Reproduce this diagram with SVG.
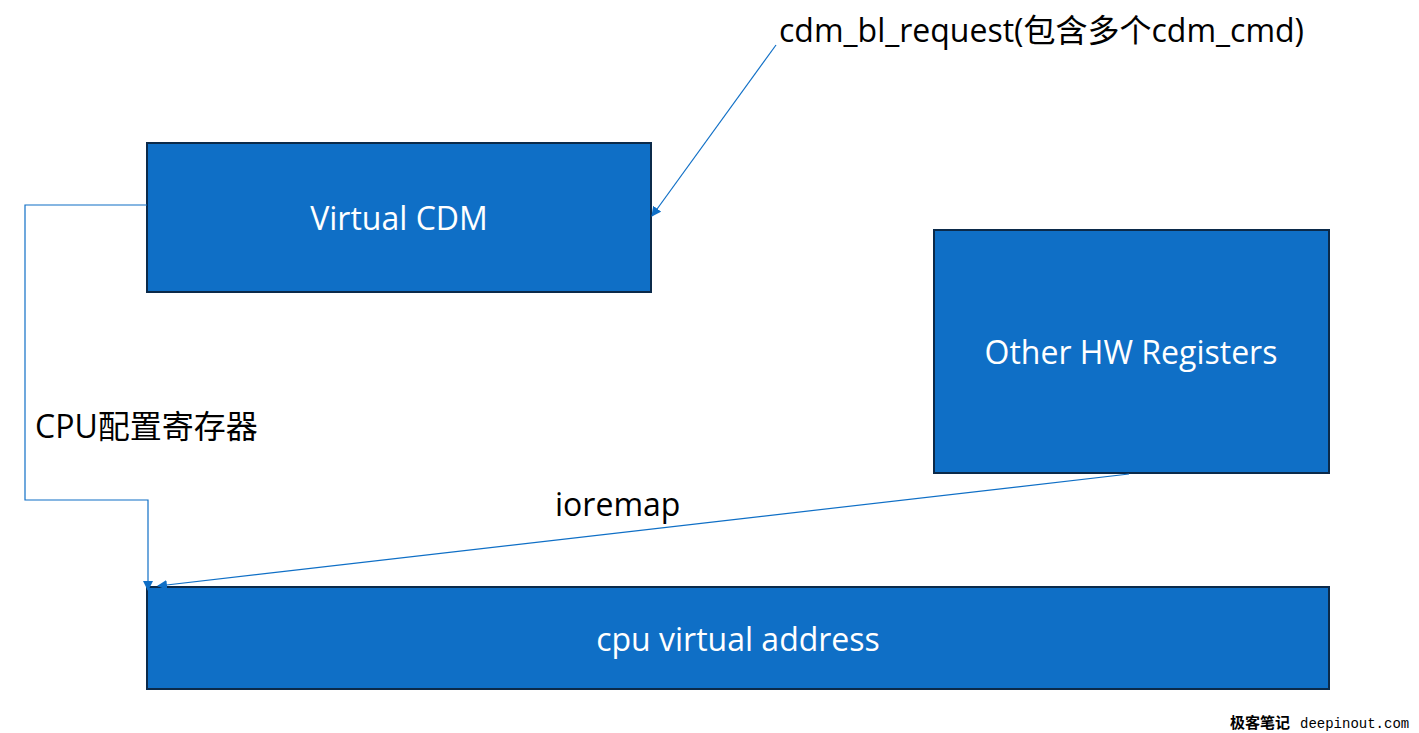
<svg xmlns="http://www.w3.org/2000/svg" width="1419" height="733" viewBox="0 0 1419 733">
<style>
.box{fill:#0f6fc6;stroke:#0b2a4a;stroke-width:2}
.bt{fill:#fff;font-family:"Open Sans","Noto Sans",sans-serif;font-size:32px;text-anchor:middle}
.lt{fill:#000;font-family:"Open Sans","Noto Sans","Noto Sans CJK SC",sans-serif;font-size:32px}
.c{fill:none;stroke:#0f6fc6;stroke-width:1.2}
</style>
<defs><marker id="a" viewBox="0 0 10 10" refX="9" refY="5" markerWidth="10" markerHeight="10" markerUnits="userSpaceOnUse" orient="auto"><path d="M0,0L10,5L0,10z" fill="#0f6fc6"/></marker></defs>
<rect width="1419" height="733" fill="#fff"/>
<g id="virtual-cdm"><rect class="box" x="147" y="143" width="504" height="149"/><text class="bt" x="399" y="230">Virtual CDM</text></g>
<g id="other-hw"><rect class="box" x="934" y="230" width="395" height="243"/><text class="bt" x="1131" y="364">Other HW Registers</text></g>
<g id="cpu-va"><rect class="box" x="147" y="587" width="1182" height="102"/><text class="bt" x="738" y="651">cpu virtual address</text></g>
<g id="connectors">
<path class="c" d="M776,45L652,216" marker-end="url(#a)"/>
<path class="c" d="M147,205H25V500H148V590" marker-end="url(#a)"/>
<path class="c" d="M1129,474L158,586" marker-end="url(#a)"/>
</g>
<text class="lt" x="779" y="42">cdm_bl_request(包含多个cdm_cmd)</text>
<text class="lt" x="35" y="438">CPU配置寄存器</text>
<text class="lt" x="555" y="516">ioremap</text>
<text x="1230" y="728" font-family="'Noto Sans CJK SC',sans-serif" font-size="15" font-weight="bold">极客笔记</text>
<text x="1300" y="728" font-family="'Liberation Mono',monospace" font-size="14">deepinout.com</text>
</svg>
